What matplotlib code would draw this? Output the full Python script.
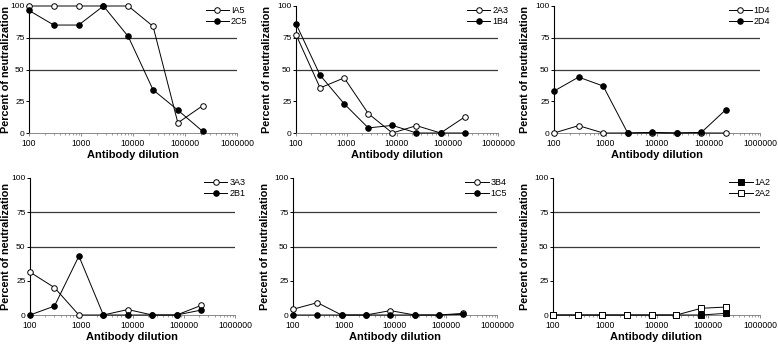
import matplotlib
matplotlib.use("Agg")
import matplotlib.pyplot as plt
from matplotlib.ticker import LogLocator, FixedLocator, NullFormatter

plt.rcParams["font.family"] = ["Liberation Sans", "DejaVu Sans"]

dilution = [100, 300, 900, 2700, 8100, 24300, 72900, 218700]

ia5 = [100, 100, 100, 100, 100, 84, 8, 21.5]
c2c5 = [96.5, 85, 85, 100, 76, 34, 18, 1.3]
a2a3 = [77.5, 35.5, 43.4, 15.3, 0, 5.8, 0, 12.6]
b1b4 = [86, 45.5, 23, 4, 6, 0, 0, 0]
d1d4 = [0, 5.8, 0, 0, 0, 0, 0, 0]
d2d4 = [33, 44, 37, 0, 0.5, 0, 0.5, 18.5]
a3a3 = [31.3, 20, 0, 0, 4, 0, 0, 7]
b2b1 = [0, 6.5, 43, 0, 0, 0, 0, 3.6]
b3b4 = [4.2, 9, 0, 0, 3.2, 0, 0, 1.2]
c1c5 = [0, 0, 0, 0, 0, 0, 0, 0.5]
a1a2 = [0, 0, 0, 0, 0, 0, 0, 1.2]
a2a2 = [0, 0, 0, 0, 0, 0, 4.9, 5.8]

# (label, values, marker, filled) — drawn in legend order
panels = [
    [("IA5", ia5, "o", False), ("2C5", c2c5, "o", True)],
    [("2A3", a2a3, "o", False), ("1B4", b1b4, "o", True)],
    [("1D4", d1d4, "o", False), ("2D4", d2d4, "o", True)],
    [("3A3", a3a3, "o", False), ("2B1", b2b1, "o", True)],
    [("3B4", b3b4, "o", False), ("1C5", c1c5, "o", True)],
    [("1A2", a1a2, "s", True), ("2A2", a2a2, "s", False)],
]

W, H = 778, 346
# axes boxes in pixels: left, right (x=1e6), top (y=100), bottom (y=0), ylabel centre x
boxes = [
    (29, 237, 6, 133, 7), (296, 498, 6, 133, 267), (554, 760, 6, 133, 525),
    (30, 235, 178, 315, 7), (293, 497, 178, 315, 266), (553, 760, 178, 315, 525),
]

fig = plt.figure(figsize=(W / 100, H / 100), dpi=100)

for (l, r, t, b, yl), series in zip(boxes, panels):
    ax = fig.add_axes([l / W, 1 - b / H, (r - l) / W, (b - t) / H])
    ax.set_xscale("log")
    ax.set_xlim(100, 1e6)
    ax.set_ylim(0, 100)
    for yv in (50, 75):
        ax.axhline(yv, color="#3a3a3a", lw=0.9, zorder=1)
    for name, vals, mk, filled in series:
        ax.plot(dilution, vals, color="black", lw=0.7, marker=mk,
                markersize=4 if mk == "o" else 3.8, markeredgewidth=0.7,
                markerfacecolor="black" if filled else "white",
                markeredgecolor="black", label=name, clip_on=False, zorder=3)
    for s in ("top", "right"):
        ax.spines[s].set_visible(False)
    ax.spines["left"].set_linewidth(0.8)
    ax.spines["bottom"].set_linewidth(0.6)
    ax.spines["bottom"].set_color("#777777")
    ax.set_yticks([0, 25, 50, 75, 100])
    ax.xaxis.set_major_locator(FixedLocator([1e2, 1e3, 1e4, 1e5, 1e6]))
    ax.set_xticklabels(["100", "1000", "10000", "100000", "1000000"])
    ax.xaxis.set_minor_locator(LogLocator(base=10, subs=range(2, 10)))
    ax.xaxis.set_minor_formatter(NullFormatter())
    ax.tick_params(axis="y", length=2.2, width=0.7, pad=1, labelsize=6)
    ax.tick_params(axis="x", which="major", length=2, width=0.6,
                   color="#777777", pad=2, labelsize=6.2)
    ax.tick_params(axis="x", which="minor", length=1.2, width=0.5,
                   color="#777777")
    ax.set_xlabel("Antibody dilution", fontsize=8, fontweight="bold", labelpad=2)
    ax.set_ylabel("Percent of neutralization", fontsize=7.8, fontweight="bold")
    ax.yaxis.set_label_coords((yl + 4.5 - l) / (r - l), 0.5)
    ax.legend(loc="upper right", bbox_to_anchor=(1.05, 1.0), frameon=False,
              fontsize=6.5, handlelength=2.6, handletextpad=0.2,
              labelspacing=0.25, borderaxespad=0, borderpad=0)

fig.savefig("out.png", dpi=100)
